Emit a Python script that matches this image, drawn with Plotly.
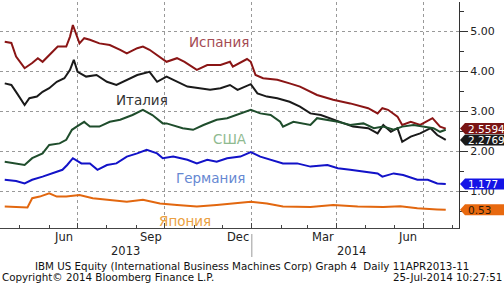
import plotly.graph_objects as go

# ---------------- data ----------------
spain_dates = ["2013-04-15","2013-04-22","2013-04-27","2013-05-06","2013-05-14","2013-05-20","2013-05-25",
    "2013-06-01","2013-06-10","2013-06-19","2013-06-23","2013-06-26","2013-06-30","2013-07-03","2013-07-08",
    "2013-07-14","2013-07-24","2013-08-04","2013-08-15","2013-08-22","2013-09-02","2013-09-08","2013-09-15",
    "2013-09-23","2013-10-03","2013-10-14","2013-10-22","2013-11-04","2013-11-15","2013-11-29","2013-12-09",
    "2013-12-12","2013-12-27","2013-12-31","2014-01-05","2014-01-13","2014-01-28","2014-02-10","2014-02-21",
    "2014-03-11","2014-03-28","2014-04-15","2014-05-04","2014-05-14","2014-05-19","2014-05-25","2014-06-04",
    "2014-06-09","2014-06-18","2014-06-28","2014-07-11","2014-07-19","2014-07-25"]
spain_vals = [4.73,4.70,4.36,4.07,4.20,4.32,4.23,4.40,4.61,4.61,4.86,5.15,4.86,4.69,4.82,4.78,4.69,4.65,4.53,
    4.44,4.57,4.61,4.53,4.40,4.23,4.32,4.23,4.03,4.15,4.15,4.23,4.11,4.30,4.23,3.90,3.82,3.78,3.69,3.61,3.40,
    3.28,3.19,3.07,2.94,3.07,3.03,2.86,2.65,2.73,2.65,2.82,2.61,2.5594]

italy_dates = ["2013-04-15","2013-04-22","2013-04-28","2013-05-06","2013-05-11","2013-05-19","2013-05-25",
    "2013-06-01","2013-06-09","2013-06-17","2013-06-23","2013-06-27","2013-07-01","2013-07-10","2013-07-21",
    "2013-08-01","2013-08-11","2013-08-22","2013-09-02","2013-09-15","2013-09-23","2013-10-03","2013-10-14",
    "2013-10-25","2013-11-07","2013-11-18","2013-11-29","2013-12-09","2013-12-17","2013-12-31","2014-01-07",
    "2014-01-17","2014-01-28","2014-02-10","2014-02-21","2014-03-04","2014-03-15","2014-03-25","2014-04-05",
    "2014-04-18","2014-05-04","2014-05-14","2014-05-20","2014-05-28","2014-06-04","2014-06-09","2014-06-18",
    "2014-06-28","2014-07-09","2014-07-16","2014-07-25"]
italy_vals = [3.69,3.65,3.44,3.15,3.32,3.36,3.48,3.57,3.73,3.82,4.03,4.28,3.98,3.86,3.90,3.73,3.65,3.78,3.90,
    3.98,3.73,3.86,3.73,3.61,3.57,3.53,3.57,3.65,3.53,3.67,3.44,3.36,3.32,3.23,3.11,2.94,2.90,2.82,2.73,2.61,
    2.57,2.44,2.65,2.48,2.57,2.23,2.36,2.44,2.57,2.40,2.2769]

usa_dates = ["2013-04-15","2013-04-27","2013-05-06","2013-05-14","2013-05-25","2013-06-01","2013-06-12",
    "2013-06-19","2013-06-25","2013-06-30","2013-07-08","2013-07-10","2013-07-14","2013-07-24","2013-08-04",
    "2013-08-15","2013-08-28","2013-09-08","2013-09-18","2013-09-29","2013-10-03","2013-10-20","2013-10-31",
    "2013-11-11","2013-11-25","2013-12-06","2013-12-20","2013-12-31","2014-01-10","2014-01-21","2014-01-31",
    "2014-02-03","2014-02-14","2014-02-24","2014-03-04","2014-03-11","2014-03-22","2014-04-02","2014-04-15",
    "2014-04-29","2014-05-10","2014-05-20","2014-05-31","2014-06-09","2014-06-21","2014-07-02","2014-07-12",
    "2014-07-19","2014-07-25"]
usa_vals = [1.73,1.69,1.65,1.82,1.94,2.15,2.19,2.28,2.53,2.61,2.73,2.69,2.61,2.61,2.73,2.78,2.90,3.03,2.90,
    2.69,2.69,2.57,2.53,2.65,2.78,2.82,2.94,3.03,2.94,2.90,2.73,2.61,2.73,2.69,2.65,2.82,2.78,2.73,2.65,2.69,
    2.57,2.61,2.53,2.61,2.65,2.61,2.57,2.48,2.53]

germany_dates = ["2013-04-15","2013-04-27","2013-05-06","2013-05-14","2013-05-25","2013-06-04","2013-06-15",
    "2013-06-20","2013-06-26","2013-07-05","2013-07-14","2013-07-22","2013-08-01","2013-08-11","2013-08-22",
    "2013-09-02","2013-09-12","2013-09-23","2013-09-29","2013-10-10","2013-10-25","2013-11-04","2013-11-15",
    "2013-11-25","2013-12-06","2013-12-20","2013-12-31","2014-01-10","2014-01-21","2014-02-03","2014-02-18",
    "2014-03-04","2014-03-22","2014-04-02","2014-04-15","2014-04-29","2014-05-14","2014-05-19","2014-05-31",
    "2014-06-10","2014-06-25","2014-07-06","2014-07-16","2014-07-25"]
germany_vals = [1.28,1.25,1.19,1.28,1.36,1.44,1.53,1.65,1.82,1.69,1.69,1.53,1.65,1.69,1.86,1.94,2.03,1.94,
    1.82,1.86,1.78,1.69,1.78,1.73,1.82,1.86,1.97,1.86,1.78,1.69,1.69,1.61,1.65,1.57,1.53,1.48,1.44,1.36,1.44,
    1.40,1.28,1.28,1.19,1.177]

japan_dates = ["2013-04-15","2013-04-30","2013-05-09","2013-05-14","2013-05-22","2013-06-01","2013-06-09",
    "2013-06-19","2013-07-03","2013-07-17","2013-08-04","2013-08-22","2013-09-08","2013-09-26","2013-10-14",
    "2013-11-04","2013-11-25","2013-12-12","2013-12-31","2014-01-17","2014-02-03","2014-03-04","2014-03-28",
    "2014-04-23","2014-05-20","2014-06-07","2014-06-25","2014-07-16","2014-07-25"]
japan_vals = [0.61,0.59,0.59,0.82,0.86,0.94,0.86,0.86,0.90,0.82,0.78,0.73,0.78,0.69,0.65,0.61,0.65,0.68,
    0.73,0.69,0.61,0.60,0.65,0.61,0.60,0.62,0.57,0.54,0.53]

series_names = ["Испания", "Италия", "США", "Германия", "Япония"]
y_ticks = [1, 2, 3, 4, 5]
quarter_starts = ["2013-07-01", "2013-10-01", "2014-01-01", "2014-04-01", "2014-07-01"]
month_label_dates = ["2013-06-16", "2013-09-17", "2013-12-17", "2014-03-17", "2014-06-15"]
month_labels = ["Jun", "Sep", "Dec", "Mar", "Jun"]
year_label_dates = ["2013-08-21", "2014-04-16"]
year_labels = ["2013", "2014"]

# ---------------- layout constants ----------------
W, H = 504, 283
ML, MR, MT, MB = 0, 45, 2, 55
PW, PH = W - ML - MR, H - MT - MB
YMIN, YMAX = 0.075, 5.725
X_RANGE = ["2013-04-10", "2014-08-08"]

def px(x):
    return (x - ML) / PW

def py(y):
    return (H - MB - y) / PH

def vy(v):
    return (v - YMIN) / (YMAX - YMIN)

line_colors = ["#8a1515", "#1a1a1a", "#1f4d2c", "#1212c8", "#e2670f"]
label_colors = ["#a44a52", "#333333", "#8fba90", "#6688d2", "#eba040"]
label_pos = [(219, 42), (142, 100), (230, 139), (210, 178), (185, 221)]

fig = go.Figure()
all_series = [(spain_dates, spain_vals), (italy_dates, italy_vals), (usa_dates, usa_vals),
              (germany_dates, germany_vals), (japan_dates, japan_vals)]
for (d, v), name, col in zip(all_series, series_names, line_colors):
    fig.add_trace(go.Scatter(x=d, y=v, mode="lines", name=name,
                             line=dict(color=col, width=2), showlegend=False, hoverinfo="skip"))

ann = []
shapes = []
for name, col, (lx, ly) in zip(series_names, label_colors, label_pos):
    ann.append(dict(text=name, xref="paper", yref="paper", x=px(lx), y=py(ly),
                    xanchor="center", yanchor="middle", showarrow=False,
                    font=dict(family="DejaVu Sans", size=13.5, color=col)))

# last-value boxes
box_series = [(spain_vals, "2.5594", "#7a1414", "#ffffff"),
              (italy_vals, "2.2769", "#1a1a1a", "#ffffff"),
              (germany_vals, "1.177", "#1414e6", "#ffffff"),
              (japan_vals, "0.53", "#e8690f", "#2a1a0a")]
half = 5.5 / PH
for vals, txt, bg, fg in box_series:
    yc = vy(vals[-1])
    tip, body, right = px(460), px(465), px(506)
    path = (f"M {tip},{yc} L {body},{yc+half} L {right},{yc+half} "
            f"L {right},{yc-half} L {body},{yc-half} Z")
    shapes.append(dict(type="path", xref="paper", yref="paper", path=path,
                       fillcolor=bg, line=dict(width=0), layer="above"))
    ann.append(dict(text=txt, xref="paper", yref="paper", x=px(466), y=yc,
                    xanchor="left", yanchor="middle", showarrow=False,
                    font=dict(family="DejaVu Sans", size=10.5, color=fg)))

# x-axis text
for d, t in zip(month_label_dates, month_labels):
    ann.append(dict(text=t, xref="x", yref="paper", x=d, y=py(237), xanchor="center",
                    yanchor="middle", showarrow=False,
                    font=dict(family="DejaVu Sans", size=11.5, color="#222222")))
for d, t in zip(year_label_dates, year_labels):
    ann.append(dict(text=t, xref="x", yref="paper", x=d, y=py(251), xanchor="center",
                    yanchor="middle", showarrow=False,
                    font=dict(family="DejaVu Sans", size=11.5, color="#222222")))
shapes.append(dict(type="line", xref="x", yref="paper", x0="2014-01-01", x1="2014-01-01",
                   y0=py(234), y1=py(257), line=dict(color="#bbbbbb", width=1.5)))

# footer
foot_font = dict(family="DejaVu Sans", size=10.3, color="#111111")
ann.append(dict(text="IBM US Equity (International Business Machines Corp) Graph 4  Daily 11APR2013-11",
                xref="paper", yref="paper", x=px(33), y=py(266), xanchor="left", yanchor="middle",
                showarrow=False, font=foot_font))
ann.append(dict(text="Copyright© 2014 Bloomberg Finance L.P.", xref="paper", yref="paper",
                x=px(0), y=py(277), xanchor="left", yanchor="middle", showarrow=False, font=foot_font))
ann.append(dict(text="25-Jul-2014 10:27:51", xref="paper", yref="paper", x=px(504), y=py(277),
                xanchor="right", yanchor="middle", showarrow=False, font=foot_font))

fig.update_layout(
    width=W, height=H, margin=dict(l=ML, r=MR, t=MT, b=MB),
    paper_bgcolor="white", plot_bgcolor="white",
    annotations=ann, shapes=shapes,
    xaxis=dict(type="date", range=X_RANGE, tickvals=quarter_starts, showticklabels=False,
               showgrid=True, gridcolor="#999999", griddash="dot", gridwidth=1,
               showline=True, linecolor="#444444", linewidth=1,
               ticks="inside", ticklen=5, tickcolor="#444444",
               minor=dict(dtick="M1", tick0="2013-01-01", ticks="inside", ticklen=3,
                          tickcolor="#444444", showgrid=False),
               zeroline=False, fixedrange=True),
    yaxis=dict(range=[YMIN, YMAX], side="right", tickvals=y_ticks, tickformat=".2f",
               showgrid=True, gridcolor="#999999", griddash="dot", gridwidth=1,
               showline=True, linecolor="#333333", linewidth=1,
               ticks="outside", ticklen=8, tickcolor="#333333",
               minor=dict(dtick=0.5, tick0=0, ticks="outside", ticklen=4, tickcolor="#333333",
                          showgrid=False),
               tickfont=dict(family="DejaVu Sans", size=11, color="#222222"),
               zeroline=False, fixedrange=True),
)

fig.write_html("out.html", config={"displayModeBar": False},
               post_script="document.body.style.margin='0';document.body.style.overflow='hidden';")
